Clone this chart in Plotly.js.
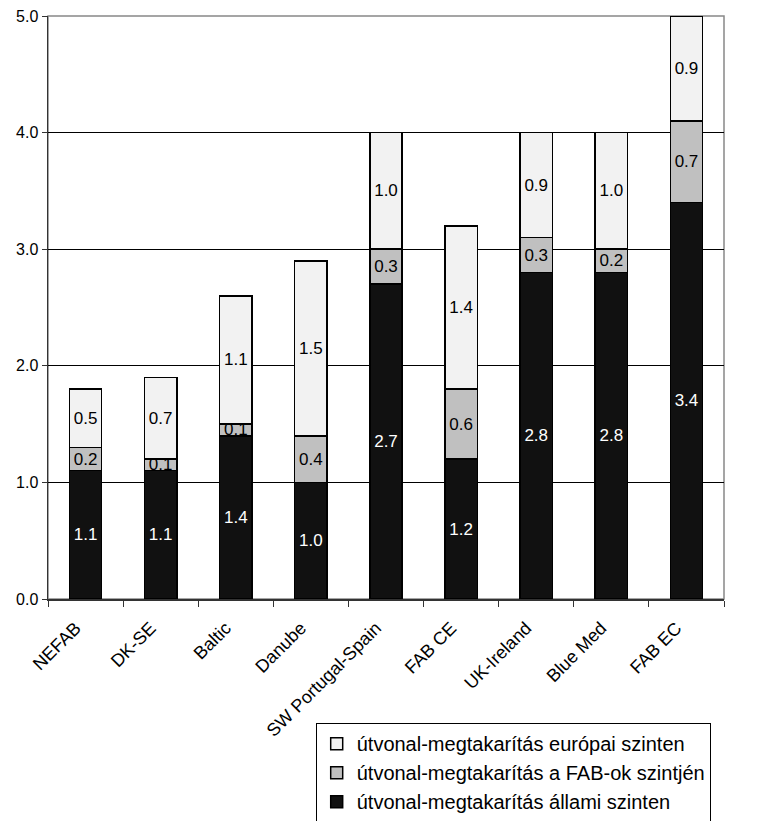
<!DOCTYPE html>
<html>
<head>
<meta charset="utf-8">
<script src="https://cdn.plot.ly/plotly-3.0.1.min.js"></script>
<style>html,body{margin:0;padding:0;background:#fff;}#chart{width:762px;height:821px;}</style>
</head>
<body>
<div id="chart"></div>
<script>
const categories = ["NEFAB", "DK-SE", "Baltic", "Danube", "SW Portugal-Spain", "FAB CE", "UK-Ireland", "Blue Med", "FAB EC"];
const stateLevel = [1.1, 1.1, 1.4, 1.0, 2.7, 1.2, 2.8, 2.8, 3.4];
const fabLevel = [0.2, 0.1, 0.1, 0.4, 0.3, 0.6, 0.3, 0.2, 0.7];
const europeLevel = [0.5, 0.7, 1.1, 1.5, 1.0, 1.4, 0.9, 1.0, 0.9];
const seriesNames = ["útvonal-megtakarítás állami szinten", "útvonal-megtakarítás a FAB-ok szintjén", "útvonal-megtakarítás európai szinten"];
const yTicks = [0, 1, 2, 3, 4, 5];

const font = "Arial, 'Liberation Sans', sans-serif";
function mk(vals, name, color, txtColor) {
  return {
    type: "bar", x: categories, y: vals, name: name,
    marker: {color: color, line: {color: "#000", width: 1.5}},
    text: vals.map(v => v.toFixed(1)), textposition: "inside", insidetextanchor: "middle",
    constraintext: "none", cliponaxis: false,
    textfont: {family: font, size: 17, color: txtColor},
    hoverinfo: "none"
  };
}
const data = [
  mk(stateLevel, seriesNames[0], "#111111", "#ffffff"),
  mk(fabLevel, seriesNames[1], "#c0c0c0", "#000000"),
  mk(europeLevel, seriesNames[2], "#f2f2f2", "#000000")
];
const layout = {
  width: 762, height: 821,
  margin: {l: 48, r: 38, t: 16, b: 222, autoexpand: false},
  paper_bgcolor: "#fff", plot_bgcolor: "#fff",
  barmode: "stack", bargap: 0.57,
  showlegend: true,
  uniformtext: {mode: "show", minsize: 17},
  font: {family: font, size: 17, color: "#000"},
  xaxis: {
    type: "category", tickangle: -45, ticks: "outside", ticklen: 6, tickcolor: "#333",
    tickson: "boundaries", showline: true, linecolor: "#333", linewidth: 1.5,
    ticklabelstandoff: 10, ticklabelshift: -10,
    tickfont: {family: font, size: 18, color: "#000"}, showgrid: false
  },
  yaxis: {
    range: [0, 5], tickvals: yTicks, ticktext: yTicks.map(v => v.toFixed(1)),
    ticks: "outside", ticklen: 5, tickcolor: "#333",
    showline: true, linecolor: "#333", linewidth: 1.5,
    showgrid: true, gridcolor: "#000", gridwidth: 1, zeroline: false,
    tickfont: {family: font, size: 16, color: "#000"}
  },
  shapes: [{type: "rect", xref: "paper", yref: "paper", x0: 0, x1: 1, y0: 0, y1: 1,
    line: {color: "#888", width: 1.5}, layer: "below"}],
  legend: {
    x: 0.396, y: -0.213, xanchor: "left", yanchor: "top",
    traceorder: "reversed", bgcolor: "#fff", bordercolor: "#000", borderwidth: 1,
    font: {family: font, size: 20, color: "#000"},
    itemwidth: 30, tracegroupgap: 0
  }
};
Plotly.newPlot("chart", data, layout, {staticPlot: true});
</script>
</body>
</html>
